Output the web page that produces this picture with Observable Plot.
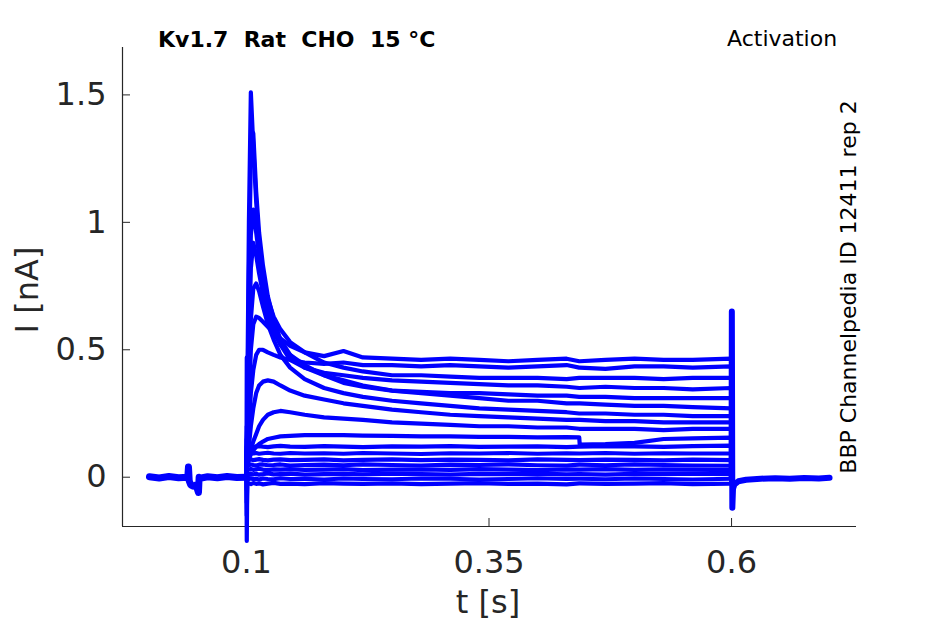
<!DOCTYPE html>
<html>
<head>
<meta charset="utf-8">
<script src="https://cdn.jsdelivr.net/npm/d3@7"></script>
<script src="https://cdn.jsdelivr.net/npm/@observablehq/plot@0.6"></script>
<style>
  html, body { margin: 0; padding: 0; background: #fff; }
  #chart { width: 945px; height: 624px; }
  text.pre { white-space: pre; }
</style>
</head>
<body>
<div id="chart"></div>
<script>
// ---- axes / ticks ----
const xDomain = [-0.0278, 0.7288];
const yDomain = [-0.1934, 1.686];
const xTicks = [0.1, 0.35, 0.6];
const yTicks = [0, 0.5, 1, 1.5];

// ---- holding period before the step (all sweeps overlap here) ----
const tPre = [0, 0.01, 0.02, 0.03, 0.0395, 0.0402, 0.041, 0.0425, 0.045, 0.048, 0.0505, 0.0512, 0.052, 0.06, 0.07, 0.08, 0.09, 0.1];
const iPre = [0.002, -0.003, 0.003, -0.002, 0.0, 0.04, -0.015, -0.03, -0.035, -0.03, -0.06, 0.0, -0.004, 0.002, -0.002, 0.003, -0.001, 0];

// ---- tail after the step ----
const tPost = [0.6, 0.6003, 0.6008, 0.6015, 0.603, 0.607, 0.615, 0.63, 0.645, 0.66, 0.675, 0.69, 0.701];
const iPost = [0, 0.65, -0.12, -0.045, -0.028, -0.016, -0.01, -0.006, -0.004, -0.006, -0.003, -0.005, -0.002];

// ---- sample times during the voltage step ----
const tStep = [0.1, 0.1003, 0.1008, 0.1025, 0.1045, 0.107, 0.11, 0.113, 0.117, 0.122, 0.128, 0.135, 0.145, 0.16, 0.18, 0.2, 0.22, 0.25, 0.28, 0.31, 0.34, 0.37, 0.40, 0.43, 0.443, 0.4435, 0.47, 0.5, 0.53, 0.56, 0.5995, 0.6];

// ---- sweeps (current in nA at tStep) ----
const sweepA = [0, 0.47, 0.3, 1.0, 1.51, 1.30, 1.08, 0.92, 0.79, 0.68, 0.59, 0.52, 0.46, 0.43, 0.41, 0.40, 0.39, 0.38, 0.375, 0.37, 0.365, 0.36, 0.36, 0.355, 0.35, 0.35, 0.355, 0.35, 0.35, 0.345, 0.35, 0];
const sweepB = [0, 0.1, 0.2, 0.8, 1.25, 1.35, 1.12, 0.96, 0.83, 0.71, 0.62, 0.54, 0.48, 0.43, 0.40, 0.38, 0.36, 0.34, 0.33, 0.32, 0.31, 0.30, 0.30, 0.29, 0.29, 0.29, 0.285, 0.28, 0.28, 0.275, 0.27, 0];
const sweepC = [0, 0.15, 0.2, 0.6, 0.95, 1.05, 0.96, 0.87, 0.78, 0.70, 0.63, 0.58, 0.53, 0.49, 0.45, 0.43, 0.415, 0.40, 0.40, 0.395, 0.39, 0.39, 0.39, 0.385, 0.39, 0.39, 0.39, 0.39, 0.385, 0.39, 0.39, 0];
const sweepD = [0, 0.1, 0.15, 0.5, 0.82, 0.92, 0.87, 0.80, 0.72, 0.64, 0.57, 0.52, 0.48, 0.44, 0.40, 0.37, 0.355, 0.34, 0.335, 0.33, 0.33, 0.325, 0.32, 0.32, 0.315, 0.315, 0.315, 0.31, 0.31, 0.31, 0.31, 0];
const sweepE = [0, 0.1, 0.12, 0.35, 0.62, 0.74, 0.76, 0.73, 0.67, 0.60, 0.54, 0.48, 0.43, 0.385, 0.35, 0.33, 0.315, 0.30, 0.29, 0.28, 0.27, 0.265, 0.26, 0.255, 0.25, 0.25, 0.25, 0.245, 0.245, 0.24, 0.24, 0];
const sweepF = [0, 0.1, 0.12, 0.3, 0.5, 0.6, 0.63, 0.625, 0.61, 0.59, 0.57, 0.545, 0.515, 0.49, 0.475, 0.495, 0.47, 0.465, 0.46, 0.465, 0.46, 0.455, 0.46, 0.465, 0.455, 0.455, 0.46, 0.465, 0.46, 0.46, 0.465, 0];
const sweepG = [0, 0.08, 0.1, 0.2, 0.33, 0.42, 0.48, 0.50, 0.50, 0.49, 0.48, 0.47, 0.46, 0.45, 0.445, 0.45, 0.44, 0.44, 0.435, 0.44, 0.435, 0.43, 0.435, 0.44, 0.43, 0.43, 0.425, 0.435, 0.435, 0.43, 0.435, 0];
const sweepH = [0, 0.05, 0.06, 0.12, 0.2, 0.27, 0.33, 0.36, 0.375, 0.38, 0.375, 0.36, 0.34, 0.32, 0.305, 0.29, 0.28, 0.265, 0.255, 0.245, 0.24, 0.235, 0.23, 0.225, 0.225, 0.225, 0.22, 0.22, 0.215, 0.215, 0.215, 0];
const sweepI = [0, 0.04, 0.05, 0.08, 0.11, 0.14, 0.17, 0.2, 0.225, 0.245, 0.255, 0.26, 0.255, 0.245, 0.235, 0.23, 0.225, 0.215, 0.21, 0.205, 0.2, 0.2, 0.195, 0.195, 0.19, 0.19, 0.19, 0.19, 0.185, 0.19, 0.19, 0];
const sweepJ = [0, 0.03, 0.04, 0.07, 0.09, 0.105, 0.12, 0.13, 0.14, 0.15, 0.155, 0.16, 0.162, 0.165, 0.165, 0.165, 0.163, 0.162, 0.16, 0.16, 0.158, 0.158, 0.156, 0.157, 0.156, 0.128, 0.13, 0.135, 0.15, 0.152, 0.155, 0];
const sweepK = [0, 0.2, 0.1, 0.11, 0.115, 0.118, 0.12, 0.122, 0.12, 0.118, 0.121, 0.123, 0.12, 0.119, 0.122, 0.12, 0.118, 0.121, 0.12, 0.122, 0.119, 0.12, 0.121, 0.118, 0.12, 0.12, 0.122, 0.121, 0.119, 0.122, 0.124, 0];
const sweepL = [0, 0.15, 0.09, 0.092, 0.094, 0.093, 0.095, 0.092, 0.094, 0.096, 0.093, 0.092, 0.095, 0.093, 0.094, 0.092, 0.095, 0.093, 0.091, 0.094, 0.093, 0.095, 0.092, 0.094, 0.093, 0.093, 0.095, 0.092, 0.094, 0.093, 0.093, 0];
const sweepM = [0, 0.12, 0.065, 0.068, 0.07, 0.067, 0.069, 0.071, 0.068, 0.066, 0.069, 0.07, 0.067, 0.068, 0.07, 0.066, 0.068, 0.07, 0.067, 0.069, 0.068, 0.066, 0.07, 0.068, 0.067, 0.067, 0.069, 0.068, 0.066, 0.069, 0.067, 0];
const sweepN = [0, 0.08, 0.045, 0.047, 0.05, 0.048, 0.046, 0.049, 0.05, 0.047, 0.048, 0.05, 0.046, 0.048, 0.049, 0.047, 0.05, 0.048, 0.046, 0.049, 0.048, 0.05, 0.047, 0.046, 0.049, 0.049, 0.047, 0.05, 0.048, 0.046, 0.045, 0];
const sweepO = [0, -0.05, 0.028, 0.03, 0.032, 0.029, 0.031, 0.033, 0.03, 0.028, 0.031, 0.03, 0.032, 0.029, 0.03, 0.032, 0.028, 0.03, 0.031, 0.029, 0.032, 0.03, 0.028, 0.031, 0.03, 0.03, 0.032, 0.029, 0.031, 0.03, 0.028, 0];
const sweepP = [0, -0.1, 0.01, 0.012, 0.014, 0.011, 0.013, 0.01, 0.012, 0.015, 0.011, 0.012, 0.014, 0.01, 0.012, 0.013, 0.011, 0.014, 0.012, 0.01, 0.013, 0.012, 0.014, 0.011, 0.012, 0.012, 0.01, 0.013, 0.012, 0.014, 0.012, 0];
const sweepQ = [0, -0.15, -0.005, -0.007, -0.004, -0.008, -0.006, -0.009, -0.005, -0.007, -0.008, -0.004, -0.007, -0.006, -0.009, -0.005, -0.007, -0.008, -0.005, -0.006, -0.009, -0.007, -0.004, -0.007, -0.006, -0.006, -0.008, -0.005, -0.007, -0.009, -0.006, 0];
const sweepR = [0, -0.25, -0.022, -0.025, -0.027, -0.023, -0.026, -0.024, -0.028, -0.025, -0.022, -0.026, -0.025, -0.027, -0.023, -0.025, -0.026, -0.024, -0.027, -0.025, -0.023, -0.026, -0.025, -0.028, -0.024, -0.024, -0.026, -0.025, -0.023, -0.027, -0.025, 0];

const sweeps = {A: sweepA, B: sweepB, C: sweepC, D: sweepD, E: sweepE, F: sweepF, G: sweepG, H: sweepH, I: sweepI,
  J: sweepJ, K: sweepK, L: sweepL, M: sweepM, N: sweepN, O: sweepO, P: sweepP, Q: sweepQ, R: sweepR};

// ---- texts ----
const titleText = "Kv1.7  Rat  CHO  15 \u00B0C";
const protocolText = "Activation";
const sideText = "BBP Channelpedia ID 12411 rep 2";
const xLabel = "t [s]";
const yLabel = "I [nA]";

// ---- build tables ----
const stepRows = [];
for (const [name, vals] of Object.entries(sweeps)) {
  tStep.forEach((t, k) => stepRows.push({sweep: name, t, i: vals[k]}));
}
const preRows = tPre.map((t, k) => ({t, i: iPre[k]}));
const postRows = tPost.map((t, k) => ({t, i: iPost[k]}));

const W = 945, H = 624;
const mL = 122, mR = 89, mT = 47, mB = 98;
const ink = "#262626";
const blue = "#0000ff";

const plot = Plot.plot({
  width: W, height: H,
  marginLeft: mL, marginRight: mR, marginTop: mT, marginBottom: mB,
  style: {fontFamily: "DejaVu Sans", fontSize: "32px", color: ink, background: "white", overflow: "visible"},
  x: {domain: xDomain, ticks: xTicks, tickSize: 0, tickPadding: 24, tickFormat: d => String(d), label: null},
  y: {domain: yDomain, ticks: yTicks, tickSize: 0, tickPadding: 16, tickFormat: d => String(d), label: null},
  marks: [
    Plot.ruleX([xDomain[0]], {stroke: ink, strokeWidth: 1.2}),
    Plot.ruleY([yDomain[0]], {stroke: ink, strokeWidth: 1.2}),
    Plot.ruleX(xTicks, {insetTop: (H - mT - mB) - 8, stroke: ink}),
    Plot.ruleY(yTicks, {insetRight: (W - mL - mR) - 8, stroke: ink}),
    Plot.line(preRows, {x: "t", y: "i", stroke: blue, strokeWidth: 7}),
    Plot.line(postRows, {x: "t", y: "i", stroke: blue, strokeWidth: 6}),
    Plot.line(stepRows, {x: "t", y: "i", z: "sweep", stroke: blue, strokeWidth: 4.2, strokeLinejoin: "round"})
  ]
});

document.getElementById("chart").appendChild(plot);

const svg = d3.select(plot);
svg.append("text").attr("class", "pre")
  .attr("x", 158).attr("y", 47)
  .attr("text-anchor", "start")
  .attr("font-family", "DejaVu Sans").attr("font-weight", "bold").attr("font-size", 22)
  .attr("fill", "#000").text(titleText);
svg.append("text")
  .attr("x", 727).attr("y", 46)
  .attr("text-anchor", "start")
  .attr("font-family", "DejaVu Sans").attr("font-size", 22)
  .attr("fill", "#000").text(protocolText);
svg.append("text")
  .attr("transform", "translate(856,287) rotate(-90)")
  .attr("text-anchor", "middle")
  .attr("font-family", "DejaVu Sans").attr("font-size", 22)
  .attr("fill", "#000").text(sideText);
svg.append("text")
  .attr("x", 488).attr("y", 613)
  .attr("text-anchor", "middle")
  .attr("font-family", "DejaVu Sans").attr("font-size", 32)
  .attr("fill", ink).text(xLabel);
svg.append("text")
  .attr("transform", "translate(38,290) rotate(-90)")
  .attr("text-anchor", "middle")
  .attr("font-family", "DejaVu Sans").attr("font-size", 32)
  .attr("fill", ink).text(yLabel);
</script>
</body>
</html>
